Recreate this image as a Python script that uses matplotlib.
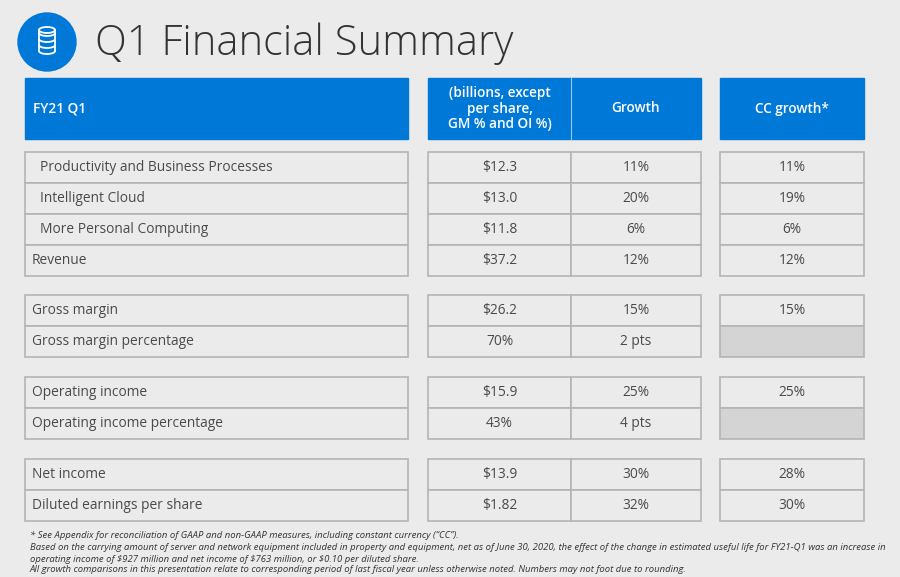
import matplotlib.pyplot as plt
from matplotlib.patches import Rectangle, Circle, Ellipse, Arc

# table content
header_left = "FY21 Q1"
header_cols = ["(billions, except\nper share,\nGM % and OI %)", "Growth", "CC growth*"]

groups = [
    ["Productivity and Business Processes", "Intelligent Cloud", "More Personal Computing", "Revenue"],
    ["Gross margin", "Gross margin percentage"],
    ["Operating income", "Operating income percentage"],
    ["Net income", "Diluted earnings per share"],
]
indented = ["Productivity and Business Processes", "Intelligent Cloud", "More Personal Computing"]
values = ["$12.3", "$13.0", "$11.8", "$37.2", "$26.2", "70%", "$15.9", "43%", "$13.9", "$1.82"]
growth = ["11%", "20%", "6%", "12%", "15%", "2 pts", "25%", "4 pts", "30%", "32%"]
cc_growth = ["11%", "19%", "6%", "12%", "15%", None, "25%", None, "28%", "30%"]

footnotes = [
    "* See Appendix for reconciliation of GAAP and non-GAAP measures, including constant currency (\u201cCC\u201d).",
    "Based on the carrying amount of server and network equipment included in property and equipment, net as of June 30, 2020, the effect of the change in estimated useful life for FY21-Q1 was an increase in",
    "operating income of $927 million and net income of $763 million, or $0.10 per diluted share.",
    "All growth comparisons in this presentation relate to corresponding period of last fiscal year unless otherwise noted. Numbers may not foot due to rounding.",
]

BLUE = "#0078d7"
BG = "#ebebeb"
EDGE = "#b4b4b4"
TXT = "#4a4a4a"

fig = plt.figure(figsize=(9, 5.77), dpi=100, facecolor=BG)
ax = fig.add_axes([0, 0, 1, 1])
ax.set_xlim(0, 900)
ax.set_ylim(577, 0)
ax.axis("off")
ax.set_facecolor(BG)

# icon
ax.add_patch(Circle((47, 42), 29, color=BLUE))
for yy in [33, 39, 45]:
    ax.add_patch(Arc((47, yy), 16, 6, theta1=0, theta2=180, color="white", lw=1.3))
ax.add_patch(Ellipse((47, 30), 16, 6, fill=False, ec="white", lw=1.3))
ax.plot([39, 39], [30, 51], color="white", lw=1.3)
ax.plot([55, 55], [30, 51], color="white", lw=1.3)
ax.add_patch(Arc((47, 51), 16, 6, theta1=0, theta2=180, color="white", lw=1.3))

ax.text(95, 44, "Q1 Financial Summary", fontsize=30, color="#333333", va="center",
        family="Open Sans", fontweight="light")

# column geometry
x_left = (25, 408)
x_val = (428, 571)
x_gr = (571, 701)
x_cc = (720, 864)

# header
hy, hh = 78, 61
ax.add_patch(Rectangle((x_left[0], hy), x_left[1] - x_left[0], hh, color=BLUE))
ax.add_patch(Rectangle((x_val[0], hy), x_gr[1] - x_val[0], hh, color=BLUE))
ax.add_patch(Rectangle((x_cc[0], hy), x_cc[1] - x_cc[0], hh, color=BLUE))
ax.plot([x_gr[0], x_gr[0]], [hy, hy + hh], color="#9cc8ee", lw=0.8)
hfont = dict(color="white", fontsize=9.8, family="Open Sans", fontweight="semibold", va="center")
ax.text(x_left[0] + 8, hy + hh / 2, header_left, ha="left", **hfont)
ax.text(sum(x_val) / 2, hy + hh / 2, header_cols[0], ha="center", linespacing=1.15, **hfont)
ax.text(sum(x_gr) / 2, hy + hh / 2, header_cols[1], ha="center", **hfont)
ax.text(sum(x_cc) / 2, hy + hh / 2, header_cols[2], ha="center", **hfont)

# rows
group_tops = [152, 295, 377, 459]
rh = 31
cfont = dict(color=TXT, fontsize=9.9, family="Open Sans", va="center")
i = 0
for g, top in zip(groups, group_tops):
    for j, label in enumerate(g):
        y = top + j * rh
        for (x0, x1) in [x_left, x_val, x_gr, x_cc]:
            fc = BG
            if (x0, x1) == x_cc and cc_growth[i] is None:
                fc = "#d4d4d4"
            ax.add_patch(Rectangle((x0, y), x1 - x0, rh, fc=fc, ec=EDGE, lw=1.2))
        indent = 15 if label in indented else 7
        ax.text(x_left[0] + indent, y + rh / 2, label, ha="left", **cfont)
        ax.text(sum(x_val) / 2, y + rh / 2, values[i], ha="center", **cfont)
        ax.text(sum(x_gr) / 2, y + rh / 2, growth[i], ha="center", **cfont)
        if cc_growth[i] is not None:
            ax.text(sum(x_cc) / 2, y + rh / 2, cc_growth[i], ha="center", **cfont)
        i += 1

# footnotes
for fy, note in zip([535, 548, 559, 570], footnotes):
    ax.text(30, fy, note, fontsize=6.8, style="italic", color="#333333", va="center",
            family="Open Sans")

fig.savefig("out.png", dpi=100, facecolor=BG)
